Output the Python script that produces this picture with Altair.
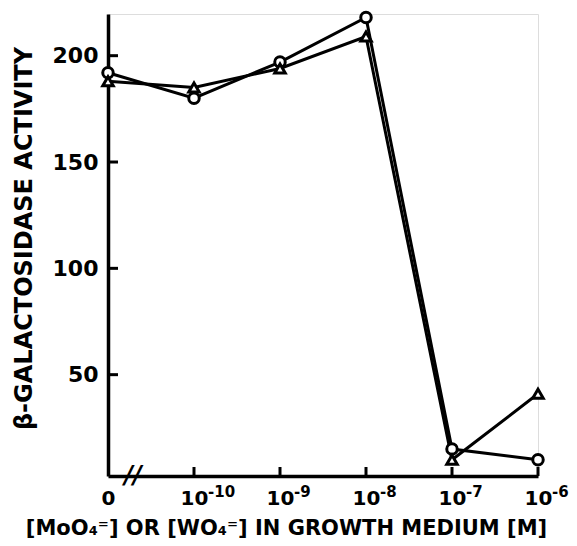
import altair as alt
import pandas as pd

positions = [0, 1, 2, 3, 4, 5]
base_labels = ["0", "10", "10", "10", "10", "10"]
exponents = ["", "-10", "-9", "-8", "-7", "-6"]
circle_values = [192, 180, 197, 218, 15, 10]
triangle_values = [188, 185, 194, 209, 10, 41]
y_ticks = [50, 100, 150, 200]
x_ticks = [1, 2, 3, 4, 5]

FONT = "DejaVu Sans"

rows = []
for p, v in zip(positions, circle_values):
    rows.append({"pos": p, "value": v, "series": "circle"})
for p, v in zip(positions, triangle_values):
    rows.append({"pos": p, "value": v, "series": "triangle"})
df = pd.DataFrame(rows)

exp_df = pd.DataFrame({"pos": positions, "exp": exponents})
ytick_df = pd.DataFrame({"v": y_ticks})
xtick_df = pd.DataFrame({"pos": x_ticks})
brk_df = pd.DataFrame({"pos": [0.29], "v": [2.35], "t": ["//"]})

label_expr = "[" + ",".join('"%s"' % s for s in base_labels) + "][datum.value]"

xscale = alt.Scale(domain=[0, 5], nice=False, zero=False)
yscale = alt.Scale(domain=[2.35, 219.6], nice=False, zero=False)

x_enc = alt.X(
    "pos:Q",
    scale=xscale,
    axis=alt.Axis(
        values=positions,
        labelExpr=label_expr,
        ticks=False,
        grid=False,
        domainWidth=3.5,
        domainColor="black",
        labelFont=FONT,
        labelFontWeight="bold",
        labelFontSize=20,
        labelColor="black",
        labelPadding=12,
        labelFlush=False,
        labelOverlap=False,
        title="[MoO₄⁼] OR [WO₄⁼] IN GROWTH MEDIUM  [M]",
        titleFont=FONT,
        titleFontWeight="bold",
        titleFontSize=21,
        titleColor="black",
        titleX=178,
        titleY=52,
        titleAlign="center",
        titleBaseline="middle",
    ),
)
y_enc = alt.Y(
    "value:Q",
    scale=yscale,
    axis=alt.Axis(
        values=y_ticks,
        ticks=False,
        grid=False,
        domainWidth=3.5,
        domainColor="black",
        labelFont=FONT,
        labelFontWeight="bold",
        labelFontSize=22,
        labelColor="black",
        labelPadding=10,
        title="β-GALACTOSIDASE ACTIVITY",
        titleFont=FONT,
        titleFontWeight="bold",
        titleFontSize=24,
        titleColor="black",
        titleX=-84,
        titleY=224,
        titleAngle=270,
        titleAlign="center",
        titleBaseline="middle",
    ),
)

lines = alt.Chart(df).mark_line(color="black", strokeWidth=3).encode(
    x=x_enc, y=y_enc, detail="series:N"
)
points = alt.Chart(df).mark_point(
    filled=False, fill="white", color="black", strokeWidth=3, size=110, opacity=1
).encode(
    x=alt.X("pos:Q", scale=xscale),
    y=alt.Y("value:Q", scale=yscale),
    shape=alt.Shape(
        "series:N",
        scale=alt.Scale(domain=["circle", "triangle"], range=["circle", "triangle-up"]),
        legend=None,
    ),
)

yticks = alt.Chart(ytick_df).mark_rule(color="black", strokeWidth=3).encode(
    y=alt.Y("v:Q", scale=yscale), x=alt.value(0), x2=alt.value(10)
)
xticks = alt.Chart(xtick_df).mark_rule(color="black", strokeWidth=3).encode(
    x=alt.X("pos:Q", scale=xscale), y=alt.value(462), y2=alt.value(453)
)
exps = alt.Chart(exp_df).mark_text(
    font=FONT, fontWeight="bold", fontSize=15, align="left", baseline="middle",
    dx=14, color="black"
).encode(
    x=alt.X("pos:Q", scale=xscale), y=alt.value(478), text="exp:N"
)
brk = alt.Chart(brk_df).mark_text(
    font=FONT, fontWeight="bold", fontSize=24, align="center", baseline="middle",
    color="black", fontStyle="italic"
).encode(
    x=alt.X("pos:Q", scale=xscale), y=alt.Y("v:Q", scale=yscale), text="t:N"
)

chart = alt.layer(lines, yticks, xticks, brk, exps, points).properties(
    width=430,
    height=462,
    autosize=alt.AutoSizeParams(type="none"),
    padding={"left": 100, "top": 6, "right": 31, "bottom": 62},
).configure_view(stroke=None).configure(background="white")

chart.save("out.html", embed_options={"renderer": "svg", "actions": False})
